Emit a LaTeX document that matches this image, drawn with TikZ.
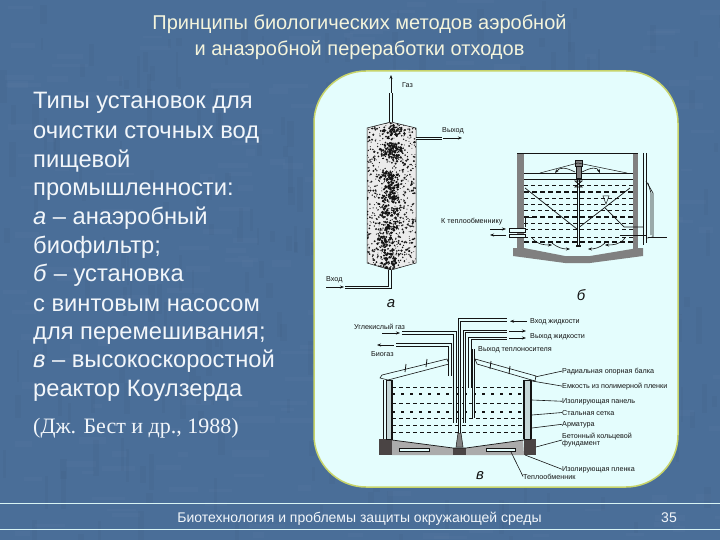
\documentclass[tikz,border=0pt]{standalone}
\usepackage{fontspec}
\setmainfont{Liberation Sans}
\newfontfamily\serifcyr{Liberation Serif}
\usetikzlibrary{arrows.meta,calc}
\definecolor{bgblue}{HTML}{4A6E98}
\definecolor{panelc}{HTML}{E4FDFD}
\definecolor{edgec}{HTML}{C8D46A}
\definecolor{txtc}{HTML}{F2F6FA}
\definecolor{titlec}{HTML}{F4F4DC}
\definecolor{linec}{HTML}{D8F4F4}
\definecolor{concrete}{HTML}{808080}
\definecolor{slabc}{HTML}{ABABAB}
\definecolor{blockc}{HTML}{4A4444}
\definecolor{ink}{HTML}{141414}
\tikzset{
 x=1pt,y=-1pt,
 titletext/.style={text=titlec,font=\fontsize{20}{22}\selectfont,anchor=base,inner sep=0pt},
 bodytext/.style={text=txtc,font=\fontsize{23.7}{26}\selectfont,anchor=base west,inner sep=0pt},
 foottext/.style={text=txtc,font=\fontsize{14}{16}\selectfont,anchor=base,inner sep=0pt},
 smalllabel/.style={text=ink,font=\fontsize{7.2}{8}\selectfont,anchor=base west,inner sep=0pt},
 figletter/.style={text=ink,font=\itshape\fontsize{15}{16}\selectfont,anchor=center,inner sep=0pt},
 pipe/.style={draw=ink,line width=.9pt,double=panelc,double distance=1.8pt},
 leader/.style={draw=ink,line width=.6pt},
 flow/.style={draw=ink,line width=.6pt,-{Stealth[length=4pt,width=3pt]}},
 level/.style={draw=ink,line width=.6pt,dash pattern=on 4pt off 3pt},
 levelheavy/.style={draw=ink,line width=1.2pt,dash pattern=on 5pt off 3pt},
 solid wall/.style={fill=concrete,draw=none},
}
\begin{document}
\begin{tikzpicture}
\useasboundingbox (0,0) rectangle (720,540);
\fill[bgblue] (0,0) rectangle (720,540);
% background texture
\pgfmathsetseed{7}
\foreach \i in {1,...,500}{
  \pgfmathsetmacro\tx{rnd*720}\pgfmathsetmacro\ty{rnd*540}
  \pgfmathsetmacro\tw{8+rnd*30}\pgfmathsetmacro\th{2+rnd*5}
  \pgfmathparse{rnd>0.5?1:0}
  \ifnum\pgfmathresult=1
    \fill[white,opacity=.018] (\tx,\ty) rectangle ++(\tw,\th);
  \else
    \fill[black,opacity=.022] (\tx,\ty) rectangle ++(\th,\tw);
  \fi
}
% panel
\fill[rounded corners=52pt,panelc,draw=edgec,line width=1.5pt] (314,71) rectangle (678,487);
% slide texts
\node[titletext] (t1) at (359.5,30) {Принципы  биологических методов аэробной};
\node[titletext] (t2) at (359.5,56) {и анаэробной переработки отходов};
\foreach \n/\yy/\s in {b1/109/Типы установок для,b2/139/очистки сточных вод,b3/168/пищевой,b4/196/промышленности:,b6/253/биофильтр;,b8/311/с винтовым насосом,b9/339/для перемешивания;,b11/396/реактор Коулзерда}{
  \node[bodytext] (\n) at (33,\yy) {\s};
}
\node[bodytext] (b5) at (33,225) {\textit{а} – анаэробный};
\node[bodytext] (b7) at (33,281) {\textit{б} – установка};
\node[bodytext] (b10) at (33,367) {\textit{в} – высокоскоростной};
\node[text=txtc,font=\serifcyr\fontsize{22}{24}\selectfont,anchor=base west,inner sep=0pt] (src) at (33,433) {(Дж. Бест и др., 1988)};
% footer
\draw[linec,line width=.9pt] (0,503)--(720,503);
\draw[linec,line width=.9pt] (0,529)--(720,529);
\node[foottext] (f1) at (359.5,522) {Биотехнология и проблемы защиты окружающей среды};
\node[foottext] (f2) at (669,522) {35};

% ---- а: biofilter
\fill[black!8,draw=ink,line width=.5pt] (367,128)--(391,122)--(416,128)--(416,263)--(391,270)--(367,263)--cycle;
\begin{scope}
\clip (367,128)--(391,122)--(416,128)--(416,263)--(391,270)--(367,263)--cycle;
\pgfmathsetseed{11}
\foreach \i in {1,...,800}{
  \pgfmathsetmacro\rx{367+rnd*49}\pgfmathsetmacro\ry{122+rnd*148}\pgfmathsetmacro\rr{.4+rnd*.7}
  \fill[ink] (\rx,\ry) circle[radius=\rr];
}
\foreach \cx/\cy in {393/132,392/147,392/155,390/176,391/187,392/197,390/212,392/227,386/240,392/255,390/264}{
  \foreach \j in {1,...,45}{
    \pgfmathsetmacro\rx{\cx+(rnd+rnd-1)*12}\pgfmathsetmacro\ry{\cy+(rnd+rnd-1)*7}\pgfmathsetmacro\rr{.6+rnd*.9}
    \fill[ink] (\rx,\ry) circle[radius=\rr];
  }
}
\end{scope}
\draw[pipe] (391,122)--(391,93);
\coordinate (gasEnd) at (391,75);
\coordinate (gasBase) at (391,93);
\draw[flow] (gasBase)--(gasEnd);
\node[smalllabel] (lGas) at (402,88) {Газ};
\draw[pipe] (416,138.500)--(442,138.500);
\node[smalllabel] (lOut) at (442,133) {Выход};
\coordinate (outA) at (443,138); \coordinate (outB) at (462,138);
\draw[flow] (outA)--(outB);
\node[smalllabel] (lIn) at (326,281) {Вход};
\draw[pipe] (390,270)--(390,287.500)--(345,287.500);
\coordinate (inA) at (326,287); \coordinate (inB) at (344,287);
\draw[flow] (inA)--(inB);
\node[figletter] (la) at (391,304) {а};

% ---- б: reactor with screw pump
\fill[solid wall] (517,153) rectangle (524,250);
\fill[solid wall] (633,153) rectangle (638,250);
\fill[solid wall] (513,248)--(524,248)--(565,256)--(590,256)--(638,248)--(643,248)--(643,256)--(590,263)--(565,263)--(513,256)--cycle;
\draw[ink,line width=.7pt] (517,153)--(638,153);
\draw[ink,line width=.6pt] (524,173)--(633,173);
\draw[ink,line width=.6pt] (524,179)--(633,179);
\foreach \yy in {185,198,204,210,223,229,237}{\draw[level] (524,\yy)--(633,\yy);}
\foreach \yy in {192,217,242}{\draw[levelheavy] (524,\yy)--(633,\yy);}
\draw[ink,line width=.7pt] (525,188)--(577,229)--(630,188);
\draw[ink,line width=.7pt] (605,208)--(624,227)--(643,227);
\draw[ink,line width=.5pt] (603,196)--(609,196)--(606,204)--cycle;
\draw[ink,line width=1pt] (620,235)--(647,235);
% shaft
\draw[pipe] (578.500,180)--(578.500,245);
\fill[ink] (576,245) rectangle (581,247);
\fill[concrete,draw=ink,line width=.5pt] (575,160) rectangle (582,166);
\fill[concrete,draw=ink,line width=.5pt] (576,166) rectangle (581,178);
\draw[ink,line width=.7pt] (575,181)--(582,181)--(575,187)--(582,187)--cycle;
% umbrella
\draw[ink,line width=.5pt] (540,173)--(578,163)--(627,173);
\draw[flow] (575,172) .. controls (565,167) and (560,167) .. (555,173);
\draw[flow] (582,172) .. controls (592,167) and (597,167) .. (600,173);
\draw[flow] (532,238) .. controls (538,245) and (545,245) .. (552,245);
\draw[flow] (625,238) .. controls (620,245) and (612,245) .. (605,245);
\draw[flow] (552,243) .. controls (558,248) and (563,249) .. (570,249);
\draw[flow] (605,243) .. controls (600,248) and (594,249) .. (588,249);
% nozzle & heat exchanger connection
\draw[ink,line width=.7pt] (525,217)--(535,217);
\draw[ink,line width=.7pt] (525,217)--(525,227);
\fill[panelc,draw=ink,line width=.6pt] (509,228) rectangle (525,232);
\fill[panelc,draw=ink,line width=.6pt] (509,234) rectangle (525,237);
\coordinate (nzA) at (490,229); \coordinate (nzB) at (506,229);
\draw[flow] (nzA)--(nzB);
\coordinate (nzC) at (506,235); \coordinate (nzD) at (490,235);
\draw[flow] (nzC)--(nzD);
\node[smalllabel] (lHeat) at (441,223) {К теплообменнику};
% right outer pipe
\draw[ink,line width=.6pt] (643,153)--(643,245);
\draw[ink,line width=.6pt] (646,153)--(646,243);
\draw[ink,line width=.6pt] (646,181)--(653,193)--(653,237)--(647,238);
\draw[ink,line width=.6pt] (648,183)--(651,193)--(651,235);
\draw[ink,line width=1pt] (648,237.500)--(667,237.500);
\node[figletter] (lb) at (581,295) {б};

% ---- в: high-rate reactor
% floor and foundations
\fill[slabc] (392,440)--(453,448)--(466,448)--(523,440)--(524,455)--(392,455)--cycle;
\fill[panelc,draw=ink,line width=.5pt] (399,448) rectangle (429,451);
\fill[panelc,draw=ink,line width=.5pt] (486,448) rectangle (515,451);
\fill[blockc] (453,448) rectangle (466,455);
\fill[blockc] (379,439) rectangle (392,455);
\fill[blockc] (524,439) rectangle (536,455);
\draw[ink,line width=.7pt] (392,440)--(453,448)--(466,448)--(524,440);
% walls
\fill[panelc!70!concrete,draw=ink,line width=.5pt] (386,380) rectangle (392,439);
\draw[ink,line width=1.4pt] (383.500,380)--(383.500,439);
\draw[ink,line width=1.4pt] (391.500,380)--(391.500,439);
\fill[panelc!70!concrete,draw=ink,line width=.5pt] (524,380) rectangle (530,439);
\draw[ink,line width=1.4pt] (531.500,380)--(531.500,439);
\draw[ink,line width=1.4pt] (523.500,380)--(523.500,439);
% liquid levels
\foreach \yy in {387,403,418,425,432}{\draw[level] (392,\yy)--(523,\yy);}
\foreach \yy in {394,412}{\draw[levelheavy,dash pattern=on 3pt off 6pt] (392,\yy)--(523,\yy);}
% roof
\fill[panelc,draw=ink,line width=.6pt] (380,378)--(382,375)--(447,359)--(449,364)--(388,380)--cycle;
\fill[panelc,draw=ink,line width=.6pt] (475,359)--(477,364)--(535,381)--(536,376)--cycle;
\foreach \xa/\ya in {405/372,426/367}{\draw[ink,line width=.8pt] (\xa,\ya)--(\xa+1,\ya-8);}
\foreach \xa/\ya in {491/369,510/374}{\draw[ink,line width=.8pt] (\xa,\ya-8)--(\xa-1,\ya);}
% central cone
\fill[concrete,draw=ink,line width=.5pt] (458,433)--(461,433)--(463,447)--(456,447)--cycle;
% pipes
\draw[pipe] (459.500,433)--(459.500,320)--(507,320);
\draw[pipe] (464.500,423)--(464.500,331.500)--(507,331.500);
\draw[pipe] (470,388)--(470,338.500)--(507,338.500);
\draw[pipe] (473.500,418)--(473.500,349);
\draw[pipe] (455,423)--(455,333)--(402,333);
\draw[pipe] (450,376)--(450,345)--(396,345);
% labels of в
\node[smalllabel] (lCO) at (354,329) {Углекислый газ};
\coordinate (coA) at (382,333); \coordinate (coB) at (400,333);
\draw[flow] (coA)--(coB);
\node[smalllabel] (lBio) at (371,356) {Биогаз};
\coordinate (biA) at (394,345); \coordinate (biB) at (377,345);
\draw[flow] (biA)--(biB);
\node[smalllabel] (lVT) at (478,351) {Выход теплоносителя};
\node[smalllabel] (lInL) at (530,323) {Вход жидкости};
\node[smalllabel] (lOutL) at (530,338) {Выход жидкости};
\draw[flow] ($(lInL.west)+(-3,0)$)--++(-17,0);
\coordinate (oA) at (509,331); \coordinate (oB) at (526,331);
\coordinate (oC) at (509,338); \coordinate (oD) at (526,338);
\draw[flow] (oA)--(oB);
\draw[flow] (oC)--(oD);
\node[smalllabel] (r1) at (562,373) {Радиальная опорная балка};
\node[smalllabel] (r2) at (562,388) {Емкость из полимерной пленки};
\node[smalllabel] (r3) at (562,403) {Изолирующая панель};
\node[smalllabel] (r4) at (562,415) {Стальная сетка};
\node[smalllabel] (r5) at (562,426) {Арматура};
\node[smalllabel,anchor=west,align=left] (r6) at (562,440) {Бетонный кольцевой\\[-1.500pt] фундамент};
\node[smalllabel] (r7) at (562,471) {Изолирующая пленка};
\node[smalllabel] (r8) at (523,479) {Теплообменник};
\coordinate (p1) at (535,377); \coordinate (p2) at (532,381); \coordinate (p3) at (532,400);
\coordinate (p4) at (532,415); \coordinate (p5) at (532,428); \coordinate (p6) at (536,447);
\coordinate (p7) at (525,455); \coordinate (p8) at (511,452);
\foreach \a/\b in {r1/p1,r2/p2,r3/p3,r4/p4,r5/p5,r6/p6,r7/p7}{\draw[leader] (\a.west)--(\b);}
\draw[leader] (r8.west)--(p8);
\node[figletter] (lc) at (480,476) {в};
\end{tikzpicture}
\end{document}
